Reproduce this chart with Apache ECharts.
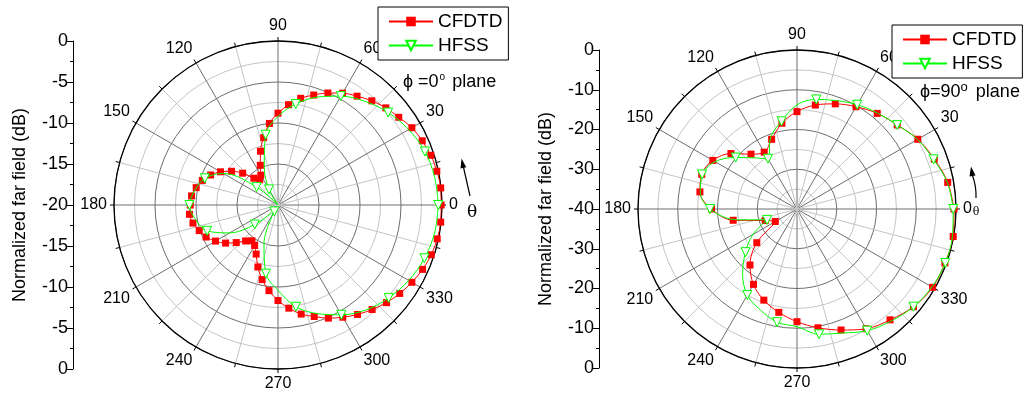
<!DOCTYPE html>
<html><head><meta charset="utf-8">
<script src="https://cdn.jsdelivr.net/npm/echarts@6/dist/echarts.min.js"></script>
<style>html,body{margin:0;padding:0;background:#fff}#c{width:1027px;height:398px}</style>
</head><body><div id="c"></div>
<script>
// ---------- data ----------
const angleTickLabels = [0, 30, 60, 90, 120, 150, 180, 210, 240, 270, 300, 330];

// phi = 0 plane (left)
const cfdtdAngles0 = [0,6,12,18,24,30,36,42,48,54,60,66,72,78,84,90,96,102,108,114,120,126,132,138,144,150,156,162,168,174,180,186,192,198,204,210,216,222,228,234,240,246,252,258,264,270,276,282,288,294,300,306,312,318,324,330,336,342,348,354];
const cfdtd0 = [-0.1,-0.05,-0.2,-0.4,-0.75,-1.15,-1.8,-2.3,-2.9,-3.6,-4.25,-5.05,-5.9,-6.7,-7.7,-8.8,-10.0,-11.6,-13.1,-14.7,-15.8,-16.2,-15.6,-14.2,-13.0,-11.9,-11.0,-10.3,-9.8,-9.4,-9.3,-9.15,-9.4,-9.9,-10.4,-11.2,-12.1,-13.15,-14.1,-14.6,-14.3,-13.45,-12.05,-10.7,-9.5,-8.35,-7.35,-6.4,-5.7,-4.9,-4.2,-3.5,-2.85,-2.2,-1.65,-1.15,-0.7,-0.35,-0.15,-0.05];
const hfssAngles0 = [0,10,20,30,40,50,60,70,80,90,100,110,120,130,140,150,160,170,180,190,200,210,220,230,240,250,260,270,280,290,300,310,320,330,340,350];
const hfss0 = [-0.45,-0.6,-0.93,-1.6,-2.46,-3.5,-4.67,-6.0,-7.5,-9.2,-11.3,-15.1,-17.8,-20,-16.6,-12.3,-10.5,-9.7,-9.2,-9.8,-10.8,-13.2,-16.3,-18.6,-19.1,-15.0,-11.5,-9.6,-7.4,-5.9,-4.54,-3.3,-2.38,-1.6,-1.0,-0.6];

// phi = 90 plane (right)
const cfdtdAngles90 = [0,10,20,30,40,50,60,70,80,90,100,110,120,130,140,150,160,170,180,190,200,210,220,230,240,250,260,270,280,290,300,310,320,330,340,350];
const cfdtd90 = [-0.5,-1.5,-3.25,-4.9,-7.1,-8.6,-10.3,-11.85,-13.45,-15.5,-18.1,-21.35,-23.5,-22.0,-18.3,-15.55,-14.5,-15.2,-18.5,-23.7,-31.5,-33.7,-26.8,-21.6,-18.1,-15.6,-13.6,-11.65,-9.66,-7.6,-5.2,-3.6,-1.76,-0.6,-0.4,-0.1];
const hfssAngles90 = [0,10,20,30,40,50,60,70,80,90,100,110,120,130,140,150,160,170,180,190,200,210,220,230,240,250,260,270,280,290,300,310,320,330,340,350];
const hfss90 = [-0.7,-1.6,-3.45,-5.0,-7.1,-8.5,-9.7,-11.0,-12.0,-13.8,-17.6,-20.7,-25.4,-23.2,-19.85,-16.2,-14.6,-15.3,-18.1,-24.5,-32,-27.2,-23.1,-18.7,-15.0,-13.0,-11.1,-10.4,-8.0,-6.8,-4.65,-3.2,-1.76,-0.8,-0.3,-0.3];

const hfssMarkerStep = 20;
const yTitle = 'Normalized far field (dB)';
const seriesNames = ['CFDTD', 'HFSS'];

// ---------- helpers ----------
const FONT = 'Arial, "Liberation Sans", Helvetica, sans-serif';
const RED = '#ff0000', GREEN = '#00ff00';

function cfdtdSeries(polarIndex, angles, vals) {
  const data = angles.map((a, i) => [vals[i], a]);
  data.push({ value: [vals[0], 360], symbol: 'none' });
  return {
    name: seriesNames[0], type: 'line', coordinateSystem: 'polar', polarIndex,
    data, smooth: 0.35, symbol: 'rect', symbolSize: 7, showSymbol: true,
    lineStyle: { color: RED, width: 1 }, itemStyle: { color: RED },
    emphasis: { disabled: true }, animation: false, z: 3
  };
}
function hfssSeries(polarIndex, angles, vals) {
  const data = angles.map((a, i) => ({ value: [vals[i], a], symbol: a % hfssMarkerStep === 0 ? 'triangle' : 'none' }));
  data.push({ value: [vals[0], 360], symbol: 'none' });
  return {
    name: seriesNames[1], type: 'line', coordinateSystem: 'polar', polarIndex,
    data, smooth: 0.35, symbol: 'triangle', symbolSize: 9, symbolRotate: 180, showSymbol: true,
    lineStyle: { color: GREEN, width: 1 }, itemStyle: { color: '#fff', borderColor: GREEN, borderWidth: 1 },
    emphasis: { disabled: true }, animation: false, z: 4
  };
}
function angleAxis(polarIndex) {
  return {
    polarIndex, type: 'value', min: 0, max: 360, interval: 15, startAngle: 0, clockwise: false,
    axisLine: { show: true, lineStyle: { color: '#000', width: 1.3 } },
    axisTick: { show: true, length: 4, lineStyle: { color: '#000', width: 1 } },
    axisLabel: { show: true, margin: 7, fontSize: 16, color: '#000', fontFamily: FONT,
      formatter: v => (angleTickLabels.indexOf(v) >= 0 ? String(v) : '') },
    splitLine: { show: true, lineStyle: { color: ['#6e6e6e', '#c4c4c4'], width: 1 } }
  };
}
function radiusAxis(polarIndex, min, interval) {
  return {
    polarIndex, type: 'value', min, max: 0, interval,
    axisLine: { show: false }, axisTick: { show: false }, axisLabel: { show: false },
    splitLine: { show: true, lineStyle: { color: ['#6e6e6e', '#c4c4c4'], width: 1 } }
  };
}
function sideY(gridIndex, span, interval) {
  return {
    gridIndex, type: 'value', min: -span, max: span, interval, position: 'left',
    name: yTitle, nameLocation: 'middle', nameRotate: 90, nameGap: 44,
    nameTextStyle: { fontSize: 18, color: '#000', fontFamily: FONT },
    axisLine: { show: true, lineStyle: { color: '#000', width: 1 } },
    axisTick: { show: true, length: 6, lineStyle: { color: '#000' } },
    minorTick: { show: true, splitNumber: 2, length: 3, lineStyle: { color: '#000' } },
    axisLabel: { fontSize: 18, color: '#000', fontFamily: FONT, margin: 5,
      formatter: v => String(Math.abs(v) - span) },
    splitLine: { show: false }
  };
}
function legend(left, top) {
  return {
    data: seriesNames, left, top, orient: 'vertical', itemGap: 5,
    itemWidth: 44, itemHeight: 12, padding: [5, 6, 5, 10],
    borderColor: '#000', borderWidth: 1, backgroundColor: '#fff',
    textStyle: { fontSize: 19, color: '#000', fontFamily: FONT },
    selectedMode: false
  };
}

const chart = echarts.init(document.getElementById('c'), null, { renderer: 'canvas' });
chart.setOption({
  animation: false,
  backgroundColor: '#fff',
  textStyle: { fontFamily: FONT },
  polar: [
    { center: [278, 205], radius: 164 },
    { center: [797, 209], radius: 159 }
  ],
  angleAxis: [angleAxis(0), angleAxis(1)],
  radiusAxis: [radiusAxis(0, -20, 2.5), radiusAxis(1, -40, 5)],
  grid: [
    { left: 73, top: 41, height: 328, width: 1, containLabel: false },
    { left: 599, top: 50, height: 318, width: 1, containLabel: false }
  ],
  xAxis: [
    { gridIndex: 0, type: 'value', show: false },
    { gridIndex: 1, type: 'value', show: false }
  ],
  yAxis: [sideY(0, 20, 5), sideY(1, 40, 10)],
  legend: [legend(378, 7), legend(892, 25)],
  series: [
    cfdtdSeries(0, cfdtdAngles0, cfdtd0),
    hfssSeries(0, hfssAngles0, hfss0),
    cfdtdSeries(1, cfdtdAngles90, cfdtd90),
    hfssSeries(1, hfssAngles90, hfss90)
  ],
  graphic: [
    { type: 'text', x: 403, y: 82, style: { text: '{a|\u03d5 =0}{s|o}{a| plane}', verticalAlign: 'middle',
      rich: { a: { fontSize: 18, fill: '#000', fontFamily: FONT }, s: { fontSize: 10, fill: '#000', fontFamily: FONT, padding: [0, 2, 9, 1] } } } },
    { type: 'text', x: 920, y: 92, style: { text: '{a|\u03d5=90}{s|o}{a| plane}', verticalAlign: 'middle',
      rich: { a: { fontSize: 18, fill: '#000', fontFamily: FONT }, s: { fontSize: 13, fill: '#000', fontFamily: FONT, padding: [0, 3, 9, 0] } } } },
    { type: 'text', x: 472, y: 213, style: { text: '\u03b8', fontSize: 17, fill: '#000', fontFamily: '"DejaVu Serif", serif', align: 'center', verticalAlign: 'middle' } },
    { type: 'text', x: 976, y: 212, style: { text: '\u03b8', fontSize: 11, fill: '#000', fontFamily: '"DejaVu Serif", serif', align: 'center', verticalAlign: 'middle' } },
    { type: 'line', shape: { x1: 470, y1: 196, x2: 463.2, y2: 166 }, style: { stroke: '#000', lineWidth: 1.2 } },
    { type: 'polygon', shape: { points: [[461.5, 158.5], [466.3, 167.2], [460.5, 168.4]] }, style: { fill: '#000' } },
    { type: 'bezierCurve', shape: { x1: 976, y1: 198, x2: 972.3, y2: 175, cpx1: 976.5, cpy1: 186 }, style: { stroke: '#000', lineWidth: 1.2, fill: null } },
    { type: 'polygon', shape: { points: [[971, 166.5], [975.5, 175.4], [969.5, 176.4]] }, style: { fill: '#000' } }
  ]
});
</script>
</body></html>
